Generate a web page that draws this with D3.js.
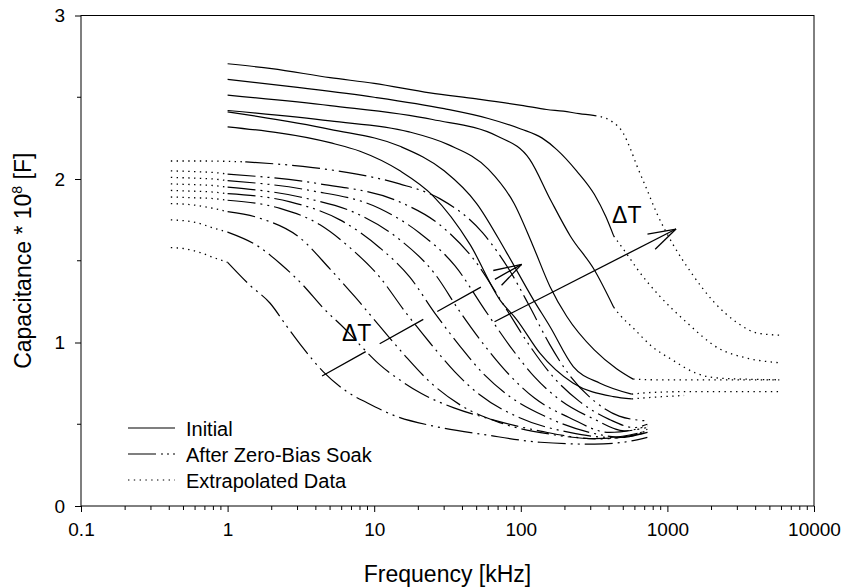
<!DOCTYPE html>
<html>
<head>
<meta charset="utf-8">
<script src="https://cdn.jsdelivr.net/npm/d3@7"></script>
<style>
  html, body { margin: 0; padding: 0; background: #fff; }
  svg { display: block; font-family: "Liberation Sans", Arial, sans-serif; }
</style>
</head>
<body>
<svg id="chart" width="845" height="588"></svg>
<script>
// Frequency axis (log) and capacitance axis
const freqTicks = [0.1, 1, 10, 100, 1000, 10000];
const freqTickLabels = ["0.1", "1", "10", "100", "1000", "10000"];
const capTicks = [0, 1, 2, 3];
const capTickLabels = ["0", "1", "2", "3"];
const capMinorTicks = [0.5, 1.5, 2.5];

// Initial measurements: [frequency kHz, capacitance * 1e8 F]
const initialMeasured = [
  [[1,2.705],[2,2.675],[5,2.62],[10,2.585],[24,2.527],[50,2.49],[104,2.449],[150,2.425],[195,2.415],[250,2.40],[321,2.388]],
  [[1,2.609],[3,2.56],[10,2.50],[30,2.43],[60,2.37],[100,2.306],[140,2.25],[176,2.18],[240,2.05],[318,1.905],[380,1.77],[430,1.652]],
  [[1,2.513],[5,2.449],[25,2.364],[70,2.26],[115,2.12],[160,1.87],[218,1.65],[317,1.445],[430,1.216]],
  [[1,2.419],[5,2.355],[17,2.29],[32,2.21],[60,2.06],[90,1.85],[120,1.60],[158,1.343],[206,1.159],[317,0.955],[450,0.84],[584,0.776]],
  [[1,2.411],[5,2.304],[15,2.20],[30,2.05],[50,1.85],[80,1.55],[122,1.261],[158,1.098],[228,0.853],[347,0.751],[571,0.684]],
  [[1,2.319],[5,2.222],[8,2.17],[15,2.05],[25,1.90],[45,1.60],[72,1.261],[94,1.139],[135,0.935],[228,0.751],[428,0.669],[571,0.655]]
];

// Extrapolated continuation of the initial curves
const initialExtrapolated = [
  [[321,2.388],[426,2.347],[500,2.28],[556,2.19],[620,2.08],[714,1.95],[847,1.79],[1092,1.60],[1472,1.42],[2066,1.25],[3000,1.12],[4100,1.058],[5800,1.045]],
  [[430,1.652],[530,1.54],[628,1.445],[883,1.285],[1349,1.124],[2249,0.963],[3436,0.906],[5800,0.876]],
  [[430,1.216],[472,1.17],[585,1.088],[784,0.976],[1079,0.894],[1567,0.812],[2277,0.782],[5800,0.772]],
  [[584,0.776],[800,0.772],[5800,0.772]],
  [[571,0.684],[800,0.695],[1500,0.70],[5800,0.70]],
  [[571,0.655],[800,0.665],[1300,0.676]]
];

// Measurements after zero-bias soak
const soakMeasured = [
  [[1.32,2.105],[3.82,2.07],[7.62,2.03],[14.9,1.97],[28,1.88],[55,1.67],[84,1.44],[115,1.22],[157,0.99],[215,0.80],[319,0.64],[469,0.55],[730,0.52]],
  [[1,2.03],[4.27,1.97],[14.9,1.86],[28,1.72],[48.6,1.50],[77.7,1.22],[115,0.98],[170,0.78],[251,0.64],[401,0.53],[592,0.48],[730,0.50]],
  [[1,1.99],[3.65,1.93],[10.9,1.82],[20.4,1.67],[35.5,1.47],[56.8,1.20],[84,0.98],[124,0.79],[184,0.65],[319,0.53],[507,0.46],[730,0.49]],
  [[1,1.95],[3.12,1.89],[7.98,1.78],[14.9,1.63],[25.9,1.42],[38.3,1.19],[56.8,0.98],[84,0.80],[124,0.66],[215,0.54],[401,0.45],[730,0.48]],
  [[1,1.91],[2.67,1.86],[5.84,1.75],[10.9,1.58],[17.5,1.40],[25.9,1.18],[38.3,0.98],[56.8,0.80],[84,0.67],[145,0.55],[294,0.45],[507,0.42],[730,0.47]],
  [[1,1.87],[2.28,1.82],[4.27,1.72],[6.83,1.58],[10.9,1.40],[16.2,1.19],[23.9,1.00],[35.5,0.82],[52.5,0.68],[98.2,0.54],[215,0.45],[401,0.42],[730,0.46]],
  [[1,1.80],[1.66,1.76],[3.12,1.64],[4.99,1.45],[7.38,1.28],[10.9,1.10],[16.2,0.92],[23.9,0.76],[38.3,0.62],[71.8,0.51],[157,0.44],[343,0.41],[730,0.45]],
  [[1,1.675],[1.65,1.583],[2.3,1.48],[3.25,1.353],[4.5,1.21],[6.4,1.078],[8.5,0.96],[10.7,0.871],[15,0.77],[21,0.688],[35,0.60],[58,0.539],[136,0.458],[319,0.412],[500,0.42],[730,0.45]],
  [[1,1.49],[1.42,1.35],[1.95,1.24],[2.53,1.10],[3.25,0.97],[4.5,0.82],[6.5,0.70],[9,0.63],[14,0.55],[25,0.49],[58,0.435],[136,0.39],[319,0.378],[500,0.39],[730,0.42]]
];

// Extrapolated low-frequency part of the soak curves
const soakExtrapolated = [
  [[0.41,2.11],[0.7,2.11],[1.32,2.105]],
  [[0.41,2.05],[0.6,2.045],[0.8,2.04],[1,2.03]],
  [[0.41,2.01],[0.6,2.005],[0.8,2.0],[1,1.99]],
  [[0.41,1.97],[0.6,1.965],[0.8,1.96],[1,1.95]],
  [[0.41,1.93],[0.6,1.925],[0.8,1.92],[1,1.91]],
  [[0.41,1.89],[0.6,1.885],[0.8,1.88],[1,1.87]],
  [[0.41,1.85],[0.6,1.84],[0.8,1.82],[1,1.80]],
  [[0.41,1.75],[0.6,1.735],[0.8,1.70],[1,1.675]],
  [[0.41,1.58],[0.5,1.575],[0.65,1.55],[0.8,1.52],[1,1.49]]
];

// Temperature-shift arrows and their labels: [start, end] in data units
const shiftArrows = [
  { from: [4.41, 0.795], to: [101.3, 1.478], dashed: true },
  { from: [66.2, 1.127], to: [1145, 1.694], dashed: false }
];
const shiftLabels = [
  { at: [6.03, 1.009], text: "\u0394T" },
  { at: [419, 1.731], text: "\u0394T" }
];

const legendItems = [
  { label: "Initial", style: "solid" },
  { label: "After Zero-Bias Soak", style: "soak" },
  { label: "Extrapolated Data", style: "dotted" }
];

const svg = d3.select("#chart");
const plotLeft = 81, plotRight = 814, plotTop = 15.5, plotBottom = 506;

const x = d3.scaleLog().domain([0.1, 10000]).range([plotLeft, plotRight]);
const y = d3.scaleLinear().domain([0, 3]).range([plotBottom, plotTop]);

const dash = { solid: null, soak: "28,5,2,5,2,5", dotted: "1.4,4.4" };

// Frame
svg.append("rect")
  .attr("x", plotLeft).attr("y", plotTop)
  .attr("width", plotRight - plotLeft).attr("height", plotBottom - plotTop)
  .attr("fill", "none").attr("stroke", "#000").attr("stroke-width", 1);

// X axis
const xAxis = d3.axisBottom(x)
  .tickValues(freqTicks)
  .tickFormat((d, i) => freqTickLabels[i])
  .tickSize(6).tickPadding(4);
const gx = svg.append("g").attr("transform", `translate(0,${plotBottom})`).call(xAxis);
gx.select(".domain").remove();
gx.selectAll("text").attr("font-size", 19).attr("font-family", "Liberation Sans, Arial, sans-serif").attr("fill", "#000").attr("dy", "1.05em");

const xMinor = [];
for (let d = 0.1; d < 10000; d *= 10) for (let k = 2; k <= 9; k++) xMinor.push(d * k);
svg.append("g").selectAll("line").data(xMinor).join("line")
  .attr("x1", d => x(d)).attr("x2", d => x(d))
  .attr("y1", plotBottom).attr("y2", plotBottom + 4)
  .attr("stroke", "#000").attr("stroke-width", 1);

// Y axis
const yAxis = d3.axisLeft(y)
  .tickValues(capTicks)
  .tickFormat((d, i) => capTickLabels[i])
  .tickSize(6).tickPadding(10);
const gy = svg.append("g").attr("transform", `translate(${plotLeft},0)`).call(yAxis);
gy.select(".domain").remove();
gy.selectAll("text").attr("font-size", 19).attr("font-family", "Liberation Sans, Arial, sans-serif").attr("fill", "#000");

svg.append("g").selectAll("line").data(capMinorTicks).join("line")
  .attr("x1", plotLeft - 4).attr("x2", plotLeft)
  .attr("y1", d => y(d)).attr("y2", d => y(d))
  .attr("stroke", "#000").attr("stroke-width", 1);

// Axis titles
svg.append("text")
  .attr("x", (plotLeft + plotRight) / 2).attr("y", 582)
  .attr("text-anchor", "middle").attr("font-size", 23)
  .text("Frequency [kHz]");

const yt = svg.append("text")
  .attr("transform", `translate(31,${(plotTop + plotBottom) / 2}) rotate(-90)`)
  .attr("text-anchor", "middle").attr("font-size", 23);
yt.append("tspan").text("Capacitance * 10");
yt.append("tspan").attr("font-size", 14).attr("dy", -9).text("8");
yt.append("tspan").attr("dy", 9).text(" [F]");

// Curves
const line = d3.line().x(d => x(d[0])).y(d => y(d[1])).curve(d3.curveMonotoneX);
const curves = svg.append("g").attr("fill", "none").attr("stroke", "#000");

function drawSet(data, style, width) {
  curves.append("g").selectAll("path").data(data).join("path")
    .attr("d", line)
    .attr("stroke-width", width)
    .attr("stroke-dasharray", dash[style]);
}
drawSet(initialExtrapolated, "dotted", 1.3);
drawSet(soakExtrapolated, "dotted", 1.3);
drawSet(initialMeasured, "solid", 1.2);
drawSet(soakMeasured, "soak", 1.2);

// Shift arrows
const arrows = svg.append("g").attr("stroke", "#000").attr("stroke-width", 1.3).attr("fill", "none");
shiftArrows.forEach(a => {
  const x0 = x(a.from[0]), y0 = y(a.from[1]), x1 = x(a.to[0]), y1 = y(a.to[1]);
  arrows.append("line").attr("x1", x0).attr("y1", y0).attr("x2", x1).attr("y2", y1)
    .attr("stroke-dasharray", a.dashed ? "50,16" : null);
  const ang = Math.atan2(y0 - y1, x0 - x1);
  const len = 29, spread = 17 * Math.PI / 180;
  [ang - spread, ang + spread].forEach(t => {
    arrows.append("line").attr("x1", x1).attr("y1", y1)
      .attr("x2", x1 + len * Math.cos(t)).attr("y2", y1 + len * Math.sin(t));
  });
});

svg.append("g").selectAll("text").data(shiftLabels).join("text")
  .attr("x", d => x(d.at[0])).attr("y", d => y(d.at[1]))
  .attr("font-size", 23)
  .text(d => d.text);

// Legend
const lg = svg.append("g").attr("transform", "translate(128,428)");
legendItems.forEach((it, i) => {
  const row = lg.append("g").attr("transform", `translate(0,${i * 26})`);
  row.append("line").attr("x1", 0).attr("x2", 47).attr("y1", 0).attr("y2", 0)
    .attr("stroke", "#000").attr("stroke-width", 1.2)
    .attr("stroke-dasharray", it.style === "soak" ? "28,5,2,4,2,4" : dash[it.style]);
  row.append("text").attr("x", 58).attr("y", 7.5).attr("font-size", 20).text(it.label);
});
</script>
</body>
</html>
